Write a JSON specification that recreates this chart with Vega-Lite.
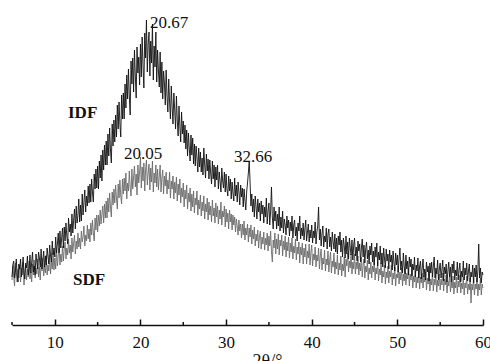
{
"$schema": "https://vega.github.io/schema/vega-lite/v6.json",
"width": 471, "height": 325,
"autosize": {"type": "none"},
"padding": {"left": 12, "top": 0, "right": 7, "bottom": 36},
"config": {"view": {"stroke": null}, "font": "Liberation Serif"},
"datasets": {
"xrd": [
{"t":5.0,"IDF":48,"SDF":45},{"t":5.1,"IDF":60,"SDF":59},{"t":5.2,"IDF":64,"SDF":48},{"t":5.3,"IDF":47,"SDF":39},{"t":5.4,"IDF":54,"SDF":62},{"t":5.5,"IDF":66,"SDF":52},{"t":5.6,"IDF":50,"SDF":43},{"t":5.7,"IDF":43,"SDF":56},{"t":5.8,"IDF":61,"SDF":47},{"t":5.9,"IDF":56,"SDF":60},
{"t":6.0,"IDF":66,"SDF":43},{"t":6.1,"IDF":48,"SDF":57},{"t":6.2,"IDF":57,"SDF":50},{"t":6.3,"IDF":68,"SDF":63},{"t":6.4,"IDF":52,"SDF":40},{"t":6.5,"IDF":46,"SDF":53},{"t":6.6,"IDF":62,"SDF":60},{"t":6.7,"IDF":57,"SDF":45},{"t":6.8,"IDF":69,"SDF":56},{"t":6.9,"IDF":50,"SDF":48},
{"t":7.0,"IDF":57,"SDF":64},{"t":7.1,"IDF":70,"SDF":46},{"t":7.2,"IDF":52,"SDF":53},{"t":7.3,"IDF":63,"SDF":43},{"t":7.4,"IDF":73,"SDF":61},{"t":7.5,"IDF":53,"SDF":50},{"t":7.6,"IDF":59,"SDF":65},{"t":7.7,"IDF":50,"SDF":47},{"t":7.8,"IDF":71,"SDF":57},{"t":7.9,"IDF":63,"SDF":51},
{"t":8.0,"IDF":56,"SDF":66},{"t":8.1,"IDF":73,"SDF":48},{"t":8.2,"IDF":67,"SDF":58},{"t":8.3,"IDF":58,"SDF":45},{"t":8.4,"IDF":76,"SDF":62},{"t":8.5,"IDF":56,"SDF":54},{"t":8.6,"IDF":65,"SDF":67},{"t":8.7,"IDF":74,"SDF":49},{"t":8.8,"IDF":58,"SDF":59},{"t":8.9,"IDF":69,"SDF":52},
{"t":9.0,"IDF":60,"SDF":70},{"t":9.1,"IDF":77,"SDF":50},{"t":9.2,"IDF":69,"SDF":60},{"t":9.3,"IDF":61,"SDF":54},{"t":9.4,"IDF":80,"SDF":70},{"t":9.5,"IDF":70,"SDF":51},{"t":9.6,"IDF":63,"SDF":64},{"t":9.7,"IDF":84,"SDF":56},{"t":9.8,"IDF":70,"SDF":73},{"t":9.9,"IDF":77,"SDF":55},
{"t":10.0,"IDF":68,"SDF":67},{"t":10.1,"IDF":88,"SDF":56},{"t":10.2,"IDF":72,"SDF":75},{"t":10.3,"IDF":81,"SDF":59},{"t":10.4,"IDF":92,"SDF":69},{"t":10.5,"IDF":72,"SDF":77},{"t":10.6,"IDF":94,"SDF":60},{"t":10.7,"IDF":77,"SDF":71},{"t":10.8,"IDF":87,"SDF":63},{"t":10.9,"IDF":97,"SDF":79},
{"t":11.0,"IDF":77,"SDF":64},{"t":11.1,"IDF":98,"SDF":76},{"t":11.2,"IDF":84,"SDF":83},{"t":11.3,"IDF":102,"SDF":66},{"t":11.4,"IDF":89,"SDF":77},{"t":11.5,"IDF":81,"SDF":70},{"t":11.6,"IDF":107,"SDF":86},{"t":11.7,"IDF":93,"SDF":72},{"t":11.8,"IDF":101,"SDF":80},{"t":11.9,"IDF":89,"SDF":66},
{"t":12.0,"IDF":111,"SDF":87},{"t":12.1,"IDF":92,"SDF":73},{"t":12.2,"IDF":105,"SDF":82},{"t":12.3,"IDF":116,"SDF":90},{"t":12.4,"IDF":96,"SDF":71},{"t":12.5,"IDF":119,"SDF":84},{"t":12.6,"IDF":102,"SDF":76},{"t":12.7,"IDF":110,"SDF":92},{"t":12.8,"IDF":126,"SDF":78},{"t":12.9,"IDF":103,"SDF":87},
{"t":13.0,"IDF":120,"SDF":76},{"t":13.1,"IDF":104,"SDF":94},{"t":13.2,"IDF":131,"SDF":83},{"t":13.3,"IDF":110,"SDF":88},{"t":13.4,"IDF":123,"SDF":99},{"t":13.5,"IDF":135,"SDF":79},{"t":13.6,"IDF":113,"SDF":90},{"t":13.7,"IDF":129,"SDF":84},{"t":13.8,"IDF":119,"SDF":100},{"t":13.9,"IDF":139,"SDF":86},
{"t":14.0,"IDF":122,"SDF":96},{"t":14.1,"IDF":141,"SDF":83},{"t":14.2,"IDF":123,"SDF":102},{"t":14.3,"IDF":146,"SDF":90},{"t":14.4,"IDF":132,"SDF":105},{"t":14.5,"IDF":123,"SDF":92},{"t":14.6,"IDF":151,"SDF":84},{"t":14.7,"IDF":136,"SDF":107},{"t":14.8,"IDF":156,"SDF":95},{"t":14.9,"IDF":137,"SDF":110},
{"t":15.0,"IDF":159,"SDF":93},{"t":15.1,"IDF":136,"SDF":110},{"t":15.2,"IDF":164,"SDF":99},{"t":15.3,"IDF":147,"SDF":115},{"t":15.4,"IDF":170,"SDF":101},{"t":15.5,"IDF":144,"SDF":111},{"t":15.6,"IDF":175,"SDF":119},{"t":15.7,"IDF":155,"SDF":102},{"t":15.8,"IDF":180,"SDF":121},{"t":15.9,"IDF":160,"SDF":107},
{"t":16.0,"IDF":184,"SDF":124},{"t":16.1,"IDF":160,"SDF":107},{"t":16.2,"IDF":191,"SDF":127},{"t":16.3,"IDF":169,"SDF":113},{"t":16.4,"IDF":197,"SDF":132},{"t":16.5,"IDF":175,"SDF":118},{"t":16.6,"IDF":162,"SDF":108},{"t":16.7,"IDF":201,"SDF":133},{"t":16.8,"IDF":179,"SDF":120},{"t":16.9,"IDF":205,"SDF":136},
{"t":17.0,"IDF":183,"SDF":122},{"t":17.1,"IDF":210,"SDF":140},{"t":17.2,"IDF":188,"SDF":126},{"t":17.3,"IDF":220,"SDF":116},{"t":17.4,"IDF":196,"SDF":141},{"t":17.5,"IDF":223,"SDF":127},{"t":17.6,"IDF":201,"SDF":145},{"t":17.7,"IDF":188,"SDF":129},{"t":17.8,"IDF":230,"SDF":121},{"t":17.9,"IDF":206,"SDF":146},
{"t":18.0,"IDF":232,"SDF":131},{"t":18.1,"IDF":206,"SDF":147},{"t":18.2,"IDF":241,"SDF":134},{"t":18.3,"IDF":217,"SDF":152},{"t":18.4,"IDF":250,"SDF":126},{"t":18.5,"IDF":226,"SDF":142},{"t":18.6,"IDF":256,"SDF":134},{"t":18.7,"IDF":229,"SDF":154},{"t":18.8,"IDF":210,"SDF":138},{"t":18.9,"IDF":264,"SDF":129},
{"t":19.0,"IDF":241,"SDF":156},{"t":19.1,"IDF":267,"SDF":136},{"t":19.2,"IDF":233,"SDF":148},{"t":19.3,"IDF":275,"SDF":159},{"t":19.4,"IDF":249,"SDF":138},{"t":19.5,"IDF":227,"SDF":151},{"t":19.6,"IDF":278,"SDF":130},{"t":19.7,"IDF":252,"SDF":160},{"t":19.8,"IDF":268,"SDF":142},{"t":19.9,"IDF":240,"SDF":153},
{"t":20.0,"IDF":281,"SDF":168},{"t":20.1,"IDF":248,"SDF":137},{"t":20.2,"IDF":288,"SDF":158},{"t":20.3,"IDF":259,"SDF":144},{"t":20.4,"IDF":237,"SDF":162},{"t":20.5,"IDF":292,"SDF":134},{"t":20.6,"IDF":267,"SDF":155},{"t":20.7,"IDF":305,"SDF":165},{"t":20.8,"IDF":253,"SDF":140},{"t":20.9,"IDF":281,"SDF":152},
{"t":21.0,"IDF":293,"SDF":161},{"t":21.1,"IDF":249,"SDF":135},{"t":21.2,"IDF":284,"SDF":157},{"t":21.3,"IDF":262,"SDF":143},{"t":21.4,"IDF":301,"SDF":164},{"t":21.5,"IDF":245,"SDF":133},{"t":21.6,"IDF":279,"SDF":152},{"t":21.7,"IDF":258,"SDF":142},{"t":21.8,"IDF":293,"SDF":160},{"t":21.9,"IDF":243,"SDF":138},
{"t":22.0,"IDF":275,"SDF":156},{"t":22.1,"IDF":254,"SDF":135},{"t":22.2,"IDF":238,"SDF":149},{"t":22.3,"IDF":273,"SDF":160},{"t":22.4,"IDF":232,"SDF":133},{"t":22.5,"IDF":263,"SDF":147},{"t":22.6,"IDF":226,"SDF":155},{"t":22.7,"IDF":254,"SDF":131},{"t":22.8,"IDF":242,"SDF":149},{"t":22.9,"IDF":220,"SDF":139},
{"t":23.0,"IDF":255,"SDF":153},{"t":23.1,"IDF":229,"SDF":131},{"t":23.2,"IDF":213,"SDF":145},{"t":23.3,"IDF":246,"SDF":136},{"t":23.4,"IDF":223,"SDF":153},{"t":23.5,"IDF":206,"SDF":127},{"t":23.6,"IDF":239,"SDF":144},{"t":23.7,"IDF":218,"SDF":136},{"t":23.8,"IDF":201,"SDF":149},{"t":23.9,"IDF":232,"SDF":126},
{"t":24.0,"IDF":215,"SDF":143},{"t":24.1,"IDF":196,"SDF":132},{"t":24.2,"IDF":229,"SDF":148},{"t":24.3,"IDF":205,"SDF":124},{"t":24.4,"IDF":189,"SDF":141},{"t":24.5,"IDF":219,"SDF":130},{"t":24.6,"IDF":199,"SDF":146},{"t":24.7,"IDF":183,"SDF":122},{"t":24.8,"IDF":213,"SDF":137},{"t":24.9,"IDF":191,"SDF":128},
{"t":25.0,"IDF":204,"SDF":142},{"t":25.1,"IDF":182,"SDF":118},{"t":25.2,"IDF":200,"SDF":135},{"t":25.3,"IDF":176,"SDF":126},{"t":25.4,"IDF":195,"SDF":140},{"t":25.5,"IDF":169,"SDF":116},{"t":25.6,"IDF":192,"SDF":132},{"t":25.7,"IDF":177,"SDF":123},{"t":25.8,"IDF":164,"SDF":137},{"t":25.9,"IDF":190,"SDF":114},
{"t":26.0,"IDF":170,"SDF":131},{"t":26.1,"IDF":187,"SDF":118},{"t":26.2,"IDF":161,"SDF":134},{"t":26.3,"IDF":181,"SDF":112},{"t":26.4,"IDF":159,"SDF":127},{"t":26.5,"IDF":179,"SDF":120},{"t":26.6,"IDF":167,"SDF":134},{"t":26.7,"IDF":153,"SDF":110},{"t":26.8,"IDF":177,"SDF":125},{"t":26.9,"IDF":158,"SDF":116},
{"t":27.0,"IDF":173,"SDF":130},{"t":27.1,"IDF":153,"SDF":109},{"t":27.2,"IDF":167,"SDF":123},{"t":27.3,"IDF":150,"SDF":114},{"t":27.4,"IDF":177,"SDF":129},{"t":27.5,"IDF":160,"SDF":106},{"t":27.6,"IDF":147,"SDF":121},{"t":27.7,"IDF":171,"SDF":113},{"t":27.8,"IDF":154,"SDF":127},{"t":27.9,"IDF":166,"SDF":105},
{"t":28.0,"IDF":146,"SDF":123},{"t":28.1,"IDF":165,"SDF":110},{"t":28.2,"IDF":152,"SDF":119},{"t":28.3,"IDF":141,"SDF":103},{"t":28.4,"IDF":164,"SDF":125},{"t":28.5,"IDF":146,"SDF":109},{"t":28.6,"IDF":160,"SDF":117},{"t":28.7,"IDF":138,"SDF":102},{"t":28.8,"IDF":158,"SDF":122},{"t":28.9,"IDF":145,"SDF":108},
{"t":29.0,"IDF":160,"SDF":119},{"t":29.1,"IDF":136,"SDF":101},{"t":29.2,"IDF":153,"SDF":115},{"t":29.3,"IDF":144,"SDF":106},{"t":29.4,"IDF":133,"SDF":123},{"t":29.5,"IDF":157,"SDF":100},{"t":29.6,"IDF":144,"SDF":114},{"t":29.7,"IDF":137,"SDF":108},{"t":29.8,"IDF":153,"SDF":119},{"t":29.9,"IDF":133,"SDF":98},
{"t":30.0,"IDF":151,"SDF":116},{"t":30.1,"IDF":136,"SDF":103},{"t":30.2,"IDF":129,"SDF":112},{"t":30.3,"IDF":149,"SDF":96},{"t":30.4,"IDF":134,"SDF":115},{"t":30.5,"IDF":146,"SDF":103},{"t":30.6,"IDF":126,"SDF":111},{"t":30.7,"IDF":143,"SDF":95},{"t":30.8,"IDF":132,"SDF":110},{"t":30.9,"IDF":124,"SDF":100},
{"t":31.0,"IDF":147,"SDF":108},{"t":31.1,"IDF":129,"SDF":93},{"t":31.2,"IDF":140,"SDF":106},{"t":31.3,"IDF":123,"SDF":99},{"t":31.4,"IDF":143,"SDF":90},{"t":31.5,"IDF":133,"SDF":105},{"t":31.6,"IDF":120,"SDF":94},{"t":31.7,"IDF":140,"SDF":101},{"t":31.8,"IDF":128,"SDF":87},{"t":31.9,"IDF":137,"SDF":101},
{"t":32.0,"IDF":118,"SDF":90},{"t":32.1,"IDF":136,"SDF":104},{"t":32.2,"IDF":125,"SDF":85},{"t":32.3,"IDF":115,"SDF":97},{"t":32.4,"IDF":133,"SDF":90},{"t":32.5,"IDF":142,"SDF":101},{"t":32.6,"IDF":152,"SDF":83},{"t":32.7,"IDF":164,"SDF":97},{"t":32.8,"IDF":143,"SDF":88},{"t":32.9,"IDF":119,"SDF":100},
{"t":33.0,"IDF":131,"SDF":81},{"t":33.1,"IDF":113,"SDF":95},{"t":33.2,"IDF":126,"SDF":86},{"t":33.3,"IDF":108,"SDF":98},{"t":33.4,"IDF":129,"SDF":79},{"t":33.5,"IDF":118,"SDF":91},{"t":33.6,"IDF":106,"SDF":84},{"t":33.7,"IDF":126,"SDF":95},{"t":33.8,"IDF":113,"SDF":77},{"t":33.9,"IDF":122,"SDF":89},
{"t":34.0,"IDF":104,"SDF":94},{"t":34.1,"IDF":124,"SDF":76},{"t":34.2,"IDF":111,"SDF":88},{"t":34.3,"IDF":120,"SDF":81},{"t":34.4,"IDF":102,"SDF":93},{"t":34.5,"IDF":118,"SDF":75},{"t":34.6,"IDF":108,"SDF":87},{"t":34.7,"IDF":127,"SDF":80},{"t":34.8,"IDF":101,"SDF":92},{"t":34.9,"IDF":114,"SDF":74},
{"t":35.0,"IDF":122,"SDF":89},{"t":35.1,"IDF":100,"SDF":79},{"t":35.2,"IDF":114,"SDF":94},{"t":35.3,"IDF":138,"SDF":73},{"t":35.4,"IDF":108,"SDF":63},{"t":35.5,"IDF":96,"SDF":85},{"t":35.6,"IDF":118,"SDF":77},{"t":35.7,"IDF":104,"SDF":92},{"t":35.8,"IDF":114,"SDF":71},{"t":35.9,"IDF":96,"SDF":86},
{"t":36.0,"IDF":111,"SDF":76},{"t":36.1,"IDF":99,"SDF":91},{"t":36.2,"IDF":118,"SDF":70},{"t":36.3,"IDF":94,"SDF":85},{"t":36.4,"IDF":108,"SDF":79},{"t":36.5,"IDF":97,"SDF":90},{"t":36.6,"IDF":114,"SDF":69},{"t":36.7,"IDF":92,"SDF":84},{"t":36.8,"IDF":106,"SDF":75},{"t":36.9,"IDF":100,"SDF":89},
{"t":37.0,"IDF":90,"SDF":68},{"t":37.1,"IDF":109,"SDF":83},{"t":37.2,"IDF":97,"SDF":74},{"t":37.3,"IDF":105,"SDF":88},{"t":37.4,"IDF":89,"SDF":67},{"t":37.5,"IDF":103,"SDF":82},{"t":37.6,"IDF":94,"SDF":73},{"t":37.7,"IDF":109,"SDF":87},{"t":37.8,"IDF":87,"SDF":66},{"t":37.9,"IDF":100,"SDF":79},
{"t":38.0,"IDF":105,"SDF":72},{"t":38.1,"IDF":89,"SDF":86},{"t":38.2,"IDF":98,"SDF":65},{"t":38.3,"IDF":84,"SDF":78},{"t":38.4,"IDF":102,"SDF":71},{"t":38.5,"IDF":94,"SDF":83},{"t":38.6,"IDF":109,"SDF":62},{"t":38.7,"IDF":86,"SDF":78},{"t":38.8,"IDF":97,"SDF":70},{"t":38.9,"IDF":89,"SDF":82},
{"t":39.0,"IDF":102,"SDF":61},{"t":39.1,"IDF":85,"SDF":77},{"t":39.2,"IDF":96,"SDF":68},{"t":39.3,"IDF":105,"SDF":81},{"t":39.4,"IDF":84,"SDF":61},{"t":39.5,"IDF":93,"SDF":74},{"t":39.6,"IDF":101,"SDF":67},{"t":39.7,"IDF":83,"SDF":81},{"t":39.8,"IDF":95,"SDF":60},{"t":39.9,"IDF":87,"SDF":72},
{"t":40.0,"IDF":100,"SDF":80},{"t":40.1,"IDF":82,"SDF":59},{"t":40.2,"IDF":94,"SDF":71},{"t":40.3,"IDF":87,"SDF":65},{"t":40.4,"IDF":103,"SDF":78},{"t":40.5,"IDF":81,"SDF":58},{"t":40.6,"IDF":93,"SDF":70},{"t":40.7,"IDF":99,"SDF":64},{"t":40.8,"IDF":118,"SDF":77},{"t":40.9,"IDF":85,"SDF":56},
{"t":41.0,"IDF":96,"SDF":69},{"t":41.1,"IDF":79,"SDF":76},{"t":41.2,"IDF":91,"SDF":55},{"t":41.3,"IDF":99,"SDF":67},{"t":41.4,"IDF":78,"SDF":61},{"t":41.5,"IDF":89,"SDF":75},{"t":41.6,"IDF":83,"SDF":54},{"t":41.7,"IDF":97,"SDF":66},{"t":41.8,"IDF":76,"SDF":60},{"t":41.9,"IDF":91,"SDF":74},
{"t":42.0,"IDF":96,"SDF":53},{"t":42.1,"IDF":78,"SDF":65},{"t":42.2,"IDF":88,"SDF":73},{"t":42.3,"IDF":74,"SDF":52},{"t":42.4,"IDF":93,"SDF":64},{"t":42.5,"IDF":83,"SDF":58},{"t":42.6,"IDF":76,"SDF":72},{"t":42.7,"IDF":91,"SDF":51},{"t":42.8,"IDF":73,"SDF":63},{"t":42.9,"IDF":87,"SDF":56},
{"t":43.0,"IDF":71,"SDF":70},{"t":43.1,"IDF":89,"SDF":50},{"t":43.2,"IDF":80,"SDF":62},{"t":43.3,"IDF":93,"SDF":55},{"t":43.4,"IDF":73,"SDF":69},{"t":43.5,"IDF":85,"SDF":49},{"t":43.6,"IDF":68,"SDF":61},{"t":43.7,"IDF":87,"SDF":54},{"t":43.8,"IDF":79,"SDF":68},{"t":43.9,"IDF":67,"SDF":48},
{"t":44.0,"IDF":89,"SDF":66},{"t":44.1,"IDF":71,"SDF":59},{"t":44.2,"IDF":83,"SDF":72},{"t":44.3,"IDF":66,"SDF":53},{"t":44.4,"IDF":87,"SDF":64},{"t":44.5,"IDF":77,"SDF":57},{"t":44.6,"IDF":70,"SDF":71},{"t":44.7,"IDF":85,"SDF":51},{"t":44.8,"IDF":65,"SDF":63},{"t":44.9,"IDF":80,"SDF":56},
{"t":45.0,"IDF":87,"SDF":71},{"t":45.1,"IDF":69,"SDF":51},{"t":45.2,"IDF":78,"SDF":63},{"t":45.3,"IDF":64,"SDF":56},{"t":45.4,"IDF":84,"SDF":69},{"t":45.5,"IDF":74,"SDF":50},{"t":45.6,"IDF":81,"SDF":62},{"t":45.7,"IDF":63,"SDF":54},{"t":45.8,"IDF":77,"SDF":68},{"t":45.9,"IDF":86,"SDF":48},
{"t":46.0,"IDF":68,"SDF":60},{"t":46.1,"IDF":80,"SDF":66},{"t":46.2,"IDF":62,"SDF":47},{"t":46.3,"IDF":76,"SDF":59},{"t":46.4,"IDF":83,"SDF":53},{"t":46.5,"IDF":66,"SDF":65},{"t":46.6,"IDF":75,"SDF":45},{"t":46.7,"IDF":61,"SDF":57},{"t":46.8,"IDF":79,"SDF":51},{"t":46.9,"IDF":70,"SDF":63},
{"t":47.0,"IDF":82,"SDF":47},{"t":47.1,"IDF":63,"SDF":59},{"t":47.2,"IDF":74,"SDF":53},{"t":47.3,"IDF":60,"SDF":65},{"t":47.4,"IDF":78,"SDF":45},{"t":47.5,"IDF":68,"SDF":57},{"t":47.6,"IDF":82,"SDF":51},{"t":47.7,"IDF":59,"SDF":63},{"t":47.8,"IDF":73,"SDF":44},{"t":47.9,"IDF":65,"SDF":56},
{"t":48.0,"IDF":79,"SDF":50},{"t":48.1,"IDF":61,"SDF":62},{"t":48.2,"IDF":72,"SDF":42},{"t":48.3,"IDF":58,"SDF":54},{"t":48.4,"IDF":77,"SDF":48},{"t":48.5,"IDF":66,"SDF":60},{"t":48.6,"IDF":57,"SDF":41},{"t":48.7,"IDF":76,"SDF":53},{"t":48.8,"IDF":64,"SDF":47},{"t":48.9,"IDF":71,"SDF":59},
{"t":49.0,"IDF":56,"SDF":42},{"t":49.1,"IDF":75,"SDF":54},{"t":49.2,"IDF":63,"SDF":48},{"t":49.3,"IDF":70,"SDF":60},{"t":49.4,"IDF":55,"SDF":40},{"t":49.5,"IDF":74,"SDF":52},{"t":49.6,"IDF":62,"SDF":46},{"t":49.7,"IDF":54,"SDF":58},{"t":49.8,"IDF":72,"SDF":39},{"t":49.9,"IDF":60,"SDF":51},
{"t":50.0,"IDF":70,"SDF":47},{"t":50.1,"IDF":53,"SDF":59},{"t":50.2,"IDF":67,"SDF":41},{"t":50.3,"IDF":77,"SDF":53},{"t":50.4,"IDF":55,"SDF":45},{"t":50.5,"IDF":64,"SDF":57},{"t":50.6,"IDF":52,"SDF":39},{"t":50.7,"IDF":72,"SDF":51},{"t":50.8,"IDF":59,"SDF":44},{"t":50.9,"IDF":51,"SDF":56},
{"t":51.0,"IDF":70,"SDF":40},{"t":51.1,"IDF":56,"SDF":52},{"t":51.2,"IDF":64,"SDF":46},{"t":51.3,"IDF":50,"SDF":57},{"t":51.4,"IDF":68,"SDF":39},{"t":51.5,"IDF":58,"SDF":51},{"t":51.6,"IDF":66,"SDF":45},{"t":51.7,"IDF":49,"SDF":55},{"t":51.8,"IDF":61,"SDF":37},{"t":51.9,"IDF":55,"SDF":49},
{"t":52.0,"IDF":68,"SDF":43},{"t":52.1,"IDF":48,"SDF":54},{"t":52.2,"IDF":60,"SDF":37},{"t":52.3,"IDF":54,"SDF":48},{"t":52.4,"IDF":67,"SDF":42},{"t":52.5,"IDF":47,"SDF":54},{"t":52.6,"IDF":59,"SDF":36},{"t":52.7,"IDF":64,"SDF":48},{"t":52.8,"IDF":46,"SDF":42},{"t":52.9,"IDF":57,"SDF":52},
{"t":53.0,"IDF":66,"SDF":37},{"t":53.1,"IDF":48,"SDF":49},{"t":53.2,"IDF":56,"SDF":43},{"t":53.3,"IDF":45,"SDF":53},{"t":53.4,"IDF":63,"SDF":35},{"t":53.5,"IDF":53,"SDF":47},{"t":53.6,"IDF":59,"SDF":41},{"t":53.7,"IDF":44,"SDF":53},{"t":53.8,"IDF":62,"SDF":34},{"t":53.9,"IDF":52,"SDF":46},
{"t":54.0,"IDF":63,"SDF":40},{"t":54.1,"IDF":48,"SDF":52},{"t":54.2,"IDF":59,"SDF":34},{"t":54.3,"IDF":68,"SDF":46},{"t":54.4,"IDF":47,"SDF":40},{"t":54.5,"IDF":57,"SDF":51},{"t":54.6,"IDF":51,"SDF":33},{"t":54.7,"IDF":65,"SDF":45},{"t":54.8,"IDF":45,"SDF":39},{"t":54.9,"IDF":56,"SDF":51},
{"t":55.0,"IDF":62,"SDF":35},{"t":55.1,"IDF":47,"SDF":46},{"t":55.2,"IDF":55,"SDF":40},{"t":55.3,"IDF":65,"SDF":52},{"t":55.4,"IDF":44,"SDF":34},{"t":55.5,"IDF":58,"SDF":46},{"t":55.6,"IDF":51,"SDF":40},{"t":55.7,"IDF":61,"SDF":50},{"t":55.8,"IDF":43,"SDF":32},{"t":55.9,"IDF":54,"SDF":44},
{"t":56.0,"IDF":63,"SDF":39},{"t":56.1,"IDF":48,"SDF":51},{"t":56.2,"IDF":58,"SDF":33},{"t":56.3,"IDF":43,"SDF":43},{"t":56.4,"IDF":61,"SDF":37},{"t":56.5,"IDF":52,"SDF":49},{"t":56.6,"IDF":64,"SDF":31},{"t":56.7,"IDF":45,"SDF":43},{"t":56.8,"IDF":55,"SDF":37},{"t":56.9,"IDF":49,"SDF":48},
{"t":57.0,"IDF":63,"SDF":32},{"t":57.1,"IDF":45,"SDF":44},{"t":57.2,"IDF":55,"SDF":38},{"t":57.3,"IDF":62,"SDF":50},{"t":57.4,"IDF":43,"SDF":32},{"t":57.5,"IDF":54,"SDF":42},{"t":57.6,"IDF":48,"SDF":36},{"t":57.7,"IDF":64,"SDF":48},{"t":57.8,"IDF":45,"SDF":30},{"t":57.9,"IDF":57,"SDF":42},
{"t":58.0,"IDF":50,"SDF":37},{"t":58.1,"IDF":62,"SDF":49},{"t":58.2,"IDF":44,"SDF":31},{"t":58.3,"IDF":54,"SDF":41},{"t":58.4,"IDF":61,"SDF":35},{"t":58.5,"IDF":43,"SDF":47},{"t":58.6,"IDF":53,"SDF":22},{"t":58.7,"IDF":48,"SDF":41},{"t":58.8,"IDF":60,"SDF":35},{"t":58.9,"IDF":42,"SDF":47},
{"t":59.0,"IDF":57,"SDF":30},{"t":59.1,"IDF":48,"SDF":41},{"t":59.2,"IDF":60,"SDF":36},{"t":59.3,"IDF":43,"SDF":47},{"t":59.4,"IDF":54,"SDF":29},{"t":59.5,"IDF":81,"SDF":41},{"t":59.6,"IDF":47,"SDF":35},{"t":59.7,"IDF":57,"SDF":47},{"t":59.8,"IDF":42,"SDF":30},{"t":59.9,"IDF":53,"SDF":41},
{"t":60.0,"IDF":50,"SDF":37}
],
"minor": [{"m":5},{"m":15},{"m":25},{"m":35},{"m":45},{"m":55}],
"notes": [
{"label":"20.67","t":21.12,"h":297},
{"label":"20.05","t":18.08,"h":166},
{"label":"32.66","t":30.93,"h":163}
],
"names": [
{"label":"IDF","t":11.54,"h":207},
{"label":"SDF","t":12.13,"h":40}
]
},
"layer": [
{
"data": {"name": "xrd"},
"mark": {"type": "line", "color": "#6a6a6a", "strokeWidth": 0.9},
"encoding": {
"x": {"field": "t", "type": "quantitative", "scale": {"domain": [5, 60], "nice": false, "zero": false},
"axis": {"values": [10, 20, 30, 40, 50, 60], "grid": false, "title": "2θ/°", "titleFont": "Liberation Serif", "titleFontSize": 18, "titleFontWeight": "normal", "titleColor": "#111", "titlePadding": 2, "titleX": 255,
"labelFont": "Liberation Serif", "labelFontSize": 17, "labelColor": "#111", "labelPadding": 15, "tickSize": -6, "tickWidth": 1.5, "tickColor": "#111", "domainColor": "#111", "domainWidth": 1.5, "labelFlush": false, "labelOverlap": false}},
"y": {"field": "SDF", "type": "quantitative", "scale": {"domain": [0, 325], "nice": false}, "axis": null}
}
},
{
"data": {"name": "xrd"},
"mark": {"type": "line", "color": "#111111", "strokeWidth": 0.9},
"encoding": {
"x": {"field": "t", "type": "quantitative"},
"y": {"field": "IDF", "type": "quantitative"}
}
},
{
"data": {"name": "minor"},
"mark": {"type": "rule", "color": "#111", "strokeWidth": 1.5},
"encoding": {
"x": {"field": "m", "type": "quantitative"},
"y": {"datum": 0, "type": "quantitative"},
"y2": {"datum": 3}
}
},
{
"data": {"name": "notes"},
"mark": {"type": "text", "align": "left", "baseline": "alphabetic", "font": "Liberation Serif", "fontSize": 17, "color": "#111"},
"encoding": {
"x": {"field": "t", "type": "quantitative"},
"y": {"field": "h", "type": "quantitative"},
"text": {"field": "label"}
}
},
{
"data": {"name": "names"},
"mark": {"type": "text", "align": "left", "baseline": "alphabetic", "font": "Liberation Serif", "fontSize": 17, "fontWeight": "bold", "color": "#111"},
"encoding": {
"x": {"field": "t", "type": "quantitative"},
"y": {"field": "h", "type": "quantitative"},
"text": {"field": "label"}
}
}
]
}
